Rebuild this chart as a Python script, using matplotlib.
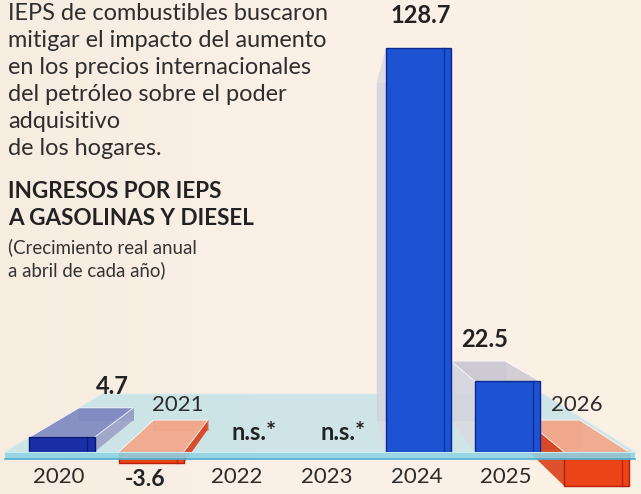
import numpy as np
import matplotlib
matplotlib.use("Agg")
import matplotlib.pyplot as plt
from matplotlib.patches import Polygon
from matplotlib.colors import LinearSegmentedColormap

# ---------------- data ----------------
years = ["2020", "2021", "2022", "2023", "2024", "2025", "2026"]
values = [4.7, -3.6, None, None, 128.7, 22.5, -10.8]
value_labels = ["4.7", "-3.6", "n.s.*", "n.s.*", "128.7", "22.5", ""]

title_lines = ["IEPS de combustibles buscaron",
               "mitigar el impacto del aumento",
               "en los precios internacionales",
               "del petróleo sobre el poder",
               "adquisitivo",
               "de los hogares."]
heading_lines = ["INGRESOS POR IEPS", "A GASOLINAS Y DIESEL"]
sub_lines = ["(Crecimiento real anual", "a abril de cada año)"]

# ---------------- figure ----------------
W, H = 641, 494
fig = plt.figure(figsize=(W / 100, H / 100), dpi=100)
ax = fig.add_axes([0, 0, 1, 1])
ax.set_xlim(-0.696, 6.498)
ax.set_ylim(-13.38, 143.95)
ax.axis("off")

# background gradient
bg = LinearSegmentedColormap.from_list("bg", ["#f7ece0", "#fbf1e7", "#fcf0e4"])
grad = np.linspace(0, 1, 256).reshape(1, -1)
ax.imshow(np.vstack([grad] * 2), cmap=bg, aspect="auto",
          extent=[*ax.get_xlim(), *ax.get_ylim()], zorder=0)

VP = np.array([330.0, H - 259.0])  # vanishing point in display pixels
T_BOX = 0.165
T_PLAT = 0.30


def proj(x, y, t):
    p = ax.transData.transform((x, y))
    q = p + t * (VP - p)
    return tuple(ax.transData.inverted().transform(q))


def poly(pts, **kw):
    ax.add_patch(Polygon(pts, closed=True, **kw))


# ---------------- platform (top surface) ----------------
pl_left, pl_right = -0.64, 6.43
plat = [(pl_left, 0), (pl_right, 0), proj(pl_right, 0, T_PLAT), proj(pl_left, 0, T_PLAT)]
poly(plat, facecolor="#c3e2e8", edgecolor="#d5eaee", lw=0.8, alpha=0.8, zorder=2)

bar_w = 0.73
for i, v in enumerate(values):
    if v is None:
        continue
    x0, x1 = i - bar_w / 2, i + bar_w / 2
    y0, y1 = min(0, v), max(0, v)
    if v > 0:
        front, top_c, side_c, edge = "#1d52d2", "#cfcbd3", "#dcdadf", "#0b2a8f"
        if v < 10:
            front, top_c, side_c, edge = "#1a2ea6", "#8088c0", "#9a9ec6", "#0a1670"
    else:
        front, top_c, side_c, edge = "#ea4418", "#f3a688", "#d9340e", "#b81e08"
    z = 4 if v > 0 else 3
    # back face (glass)
    back = [proj(x0, y0, T_BOX), proj(x1, y0, T_BOX), proj(x1, y1, T_BOX), proj(x0, y1, T_BOX)]
    poly(back, facecolor=front, alpha=0.25, edgecolor=edge, lw=0.6, zorder=z)
    # visible side face
    if ax.transData.transform((x1, 0))[0] < VP[0]:
        side = [(x1, y0), (x1, y1), proj(x1, y1, T_BOX), proj(x1, y0, T_BOX)]
    else:
        side = [(x0, y0), (x0, y1), proj(x0, y1, T_BOX), proj(x0, y0, T_BOX)]
    poly(side, facecolor=side_c, alpha=0.85, edgecolor="none", zorder=z)
    # top face
    top = [(x0, y1), (x1, y1), proj(x1, y1, T_BOX), proj(x0, y1, T_BOX)]
    if ax.transData.transform((0, y1))[1] < VP[1]:
        poly(top, facecolor=top_c, alpha=0.9, edgecolor="#ffffff", lw=0.6, zorder=z + 0.1)
    # front face
    ax.bar(i, y1 - y0, bottom=y0, width=bar_w, color=front, edgecolor=edge,
           lw=1.0, zorder=z + 0.2)
    # glass inner edges
    ax.plot([x1 - 0.08, x1 - 0.08], [y0, y1], color=edge, lw=1.0, alpha=0.8, zorder=z + 0.3)

# platform front strip
strip_h = 7 / 3.14
ax.add_patch(plt.Rectangle((pl_left, -strip_h), pl_right - pl_left, strip_h,
                           facecolor="#8fd2e3", edgecolor="none", alpha=0.9, zorder=6))
ax.plot([pl_left, pl_right], [-strip_h, -strip_h], color="#4aaed0", lw=1.2, zorder=6.1)
ax.plot([pl_left, pl_right], [0, 0], color="#c4ecf3", lw=0.8, zorder=6.1)

# ---------------- labels ----------------
FONT = "Lato"
txt = "#2b2b2b"
for i, (yr, v, lab) in enumerate(zip(years, values, value_labels)):
    if v is not None and v < 0:
        ax.annotate(yr, (i, 0), xytext=(27 if i < 3 else -20, 47),
                    textcoords="offset pixels", ha="center", va="center",
                    fontsize=16, family=FONT, color=txt, zorder=10)
        if lab:
            ax.annotate(lab, (i, v), xytext=(-6, -6), textcoords="offset pixels",
                        ha="center", va="top", fontsize=16.5, fontweight="bold",
                        family=FONT, color="#222222", zorder=10)
    else:
        ax.annotate(yr, (i, 0), xytext=(-3 if i < 4 else -2, -25),
                    textcoords="offset pixels", ha="center", va="center",
                    fontsize=16, family=FONT, color=txt, zorder=10)
        if v is None:
            ax.annotate(lab, (i, 0), xytext=(14, 19), textcoords="offset pixels",
                        ha="center", va="center", fontsize=17, fontweight="bold",
                        family=FONT, color="#222222", zorder=10)
        else:
            tx, ty = proj(i, v, T_BOX)
            gap = 10
            if ty < v:  # top face hidden: label sits above the front edge
                tx, ty, gap = i, v, 21
            ax.annotate(lab, (tx, ty), xytext=(6 if gap == 10 else 2, gap),
                        textcoords="offset pixels",
                        ha="center", va="bottom", fontsize=17, fontweight="bold",
                        family=FONT, color="#222222", zorder=10)

# ---------------- text block ----------------
def ftext(x, ybase, s, **kw):
    fig.text(x / W, 1 - ybase / H, s, va="baseline", ha="left", family=FONT, **kw)

for k, line in enumerate(title_lines):
    ftext(8, 20 + 27 * k, line, fontsize=16.9, color="#2e2e2e")
for k, line in enumerate(heading_lines):
    ftext(8, 198 + 27 * k, line, fontsize=16.2, fontweight="bold", color="#222222")
for k, line in enumerate(sub_lines):
    ftext(8, 253 + 23 * k, line, fontsize=13.4, color="#333333")

fig.savefig("out.png", dpi=100)
